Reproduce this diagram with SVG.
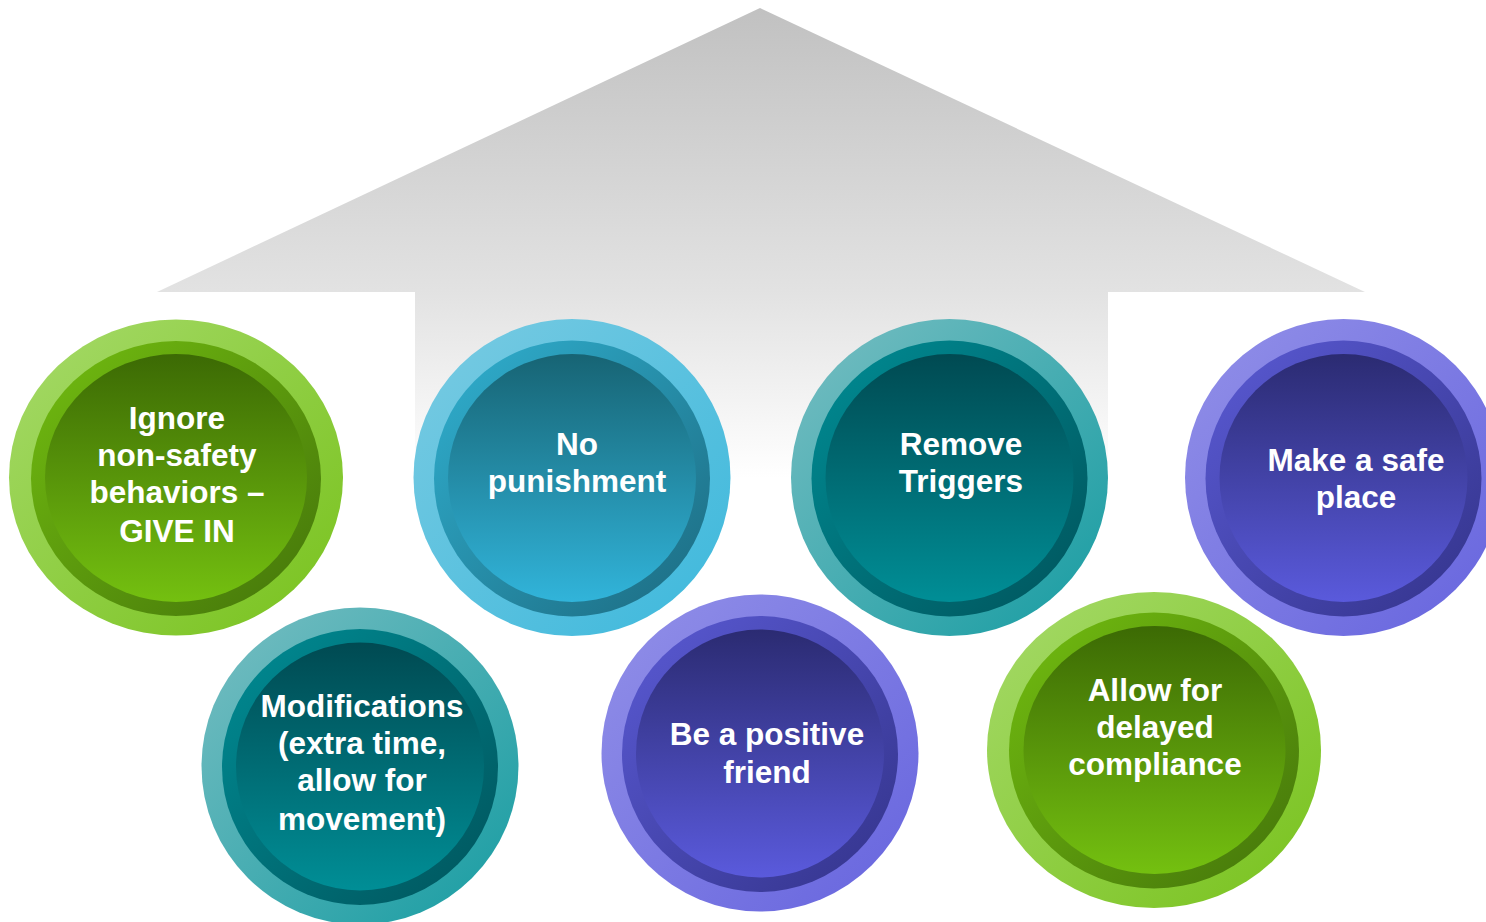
<svg xmlns="http://www.w3.org/2000/svg" width="1486" height="922" viewBox="0 0 1486 922">
  <defs>
    <!-- upward arrow fill: grey at the tip fading to white at the stem -->
    <linearGradient id="arrowFill" gradientUnits="userSpaceOnUse" x1="0" y1="8" x2="0" y2="478">
      <stop offset="0" stop-color="#c1c1c1"/>
      <stop offset="0.6" stop-color="#e2e2e2"/>
      <stop offset="1" stop-color="#ffffff"/>
    </linearGradient>

    <!-- green family -->
    <linearGradient id="gOuter" x1="0" y1="0" x2="1" y2="1">
      <stop offset="0" stop-color="#a6da6a"/>
      <stop offset="1" stop-color="#78c21c"/>
    </linearGradient>
    <linearGradient id="gMid" x1="0" y1="0" x2="1" y2="1">
      <stop offset="0" stop-color="#72bd10"/>
      <stop offset="1" stop-color="#44740a"/>
    </linearGradient>
    <linearGradient id="gInner" x1="0" y1="0" x2="0" y2="1">
      <stop offset="0" stop-color="#3c6a04"/>
      <stop offset="1" stop-color="#74c010"/>
    </linearGradient>

    <!-- blue family -->
    <linearGradient id="bOuter" x1="0" y1="0" x2="1" y2="1">
      <stop offset="0" stop-color="#7acbe2"/>
      <stop offset="1" stop-color="#3cb8dc"/>
    </linearGradient>
    <linearGradient id="bMid" x1="0" y1="0" x2="1" y2="1">
      <stop offset="0" stop-color="#30b0d0"/>
      <stop offset="1" stop-color="#1c6a80"/>
    </linearGradient>
    <linearGradient id="bInner" x1="0" y1="0" x2="0" y2="1">
      <stop offset="0" stop-color="#176474"/>
      <stop offset="1" stop-color="#31b4da"/>
    </linearGradient>

    <!-- teal family -->
    <linearGradient id="tOuter" x1="0" y1="0" x2="1" y2="1">
      <stop offset="0" stop-color="#78bec2"/>
      <stop offset="1" stop-color="#169ca2"/>
    </linearGradient>
    <linearGradient id="tMid" x1="0" y1="0" x2="1" y2="1">
      <stop offset="0" stop-color="#008c94"/>
      <stop offset="1" stop-color="#00545c"/>
    </linearGradient>
    <linearGradient id="tInner" x1="0" y1="0" x2="0" y2="1">
      <stop offset="0" stop-color="#004a52"/>
      <stop offset="1" stop-color="#008e96"/>
    </linearGradient>

    <!-- purple family -->
    <linearGradient id="pOuter" x1="0" y1="0" x2="1" y2="1">
      <stop offset="0" stop-color="#9290e8"/>
      <stop offset="1" stop-color="#6664de"/>
    </linearGradient>
    <linearGradient id="pMid" x1="0" y1="0" x2="1" y2="1">
      <stop offset="0" stop-color="#5a5ad4"/>
      <stop offset="1" stop-color="#33338a"/>
    </linearGradient>
    <linearGradient id="pInner" x1="0" y1="0" x2="0" y2="1">
      <stop offset="0" stop-color="#2b2b72"/>
      <stop offset="1" stop-color="#5a5adc"/>
    </linearGradient>

    <style>
      .label { font-family: "Liberation Sans", Arial, sans-serif; font-weight: bold; font-size: 31.5px; fill: #ffffff; text-anchor: middle; }
    </style>
  </defs>

  <rect width="1486" height="922" fill="#ffffff"/>

  <!-- background arrow -->
  <path id="arrow" d="M760 8 L1365 292 L1108 292 L1108 480 L415 480 L415 292 L157 292 Z" fill="url(#arrowFill)"/>

  <g id="connectors"/>

  <!-- top row -->
  <g id="node-ignore">
    <ellipse cx="176" cy="477.5" rx="167" ry="158" fill="url(#gOuter)"/>
    <ellipse cx="176" cy="478.5" rx="145" ry="137.5" fill="url(#gMid)"/>
    <ellipse cx="176" cy="478" rx="131" ry="124" fill="url(#gInner)"/>
    <text class="label" x="177" y="429">Ignore</text>
    <text class="label" x="177" y="466">non-safety</text>
    <text class="label" x="177" y="503">behaviors –</text>
    <text class="label" x="177" y="542">GIVE IN</text>
  </g>

  <g id="node-punishment">
    <circle cx="572" cy="477.5" r="158.5" fill="url(#bOuter)"/>
    <circle cx="572" cy="478.5" r="138" fill="url(#bMid)"/>
    <circle cx="572" cy="478" r="124" fill="url(#bInner)"/>
    <text class="label" x="577" y="455">No</text>
    <text class="label" x="577" y="492">punishment</text>
  </g>

  <g id="node-triggers">
    <circle cx="949.5" cy="477.5" r="158.5" fill="url(#tOuter)"/>
    <circle cx="949.5" cy="478.5" r="138" fill="url(#tMid)"/>
    <circle cx="949.5" cy="478" r="124" fill="url(#tInner)"/>
    <text class="label" x="961" y="455">Remove</text>
    <text class="label" x="961" y="492">Triggers</text>
  </g>

  <g id="node-safe-place">
    <circle cx="1343.5" cy="477.5" r="158.5" fill="url(#pOuter)"/>
    <circle cx="1343.5" cy="478.5" r="138" fill="url(#pMid)"/>
    <circle cx="1343.5" cy="478" r="124" fill="url(#pInner)"/>
    <text class="label" x="1356" y="471">Make a safe</text>
    <text class="label" x="1356" y="508">place</text>
  </g>

  <!-- bottom row -->
  <g id="node-modifications">
    <circle cx="360" cy="766" r="158.5" fill="url(#tOuter)"/>
    <circle cx="360" cy="767" r="138" fill="url(#tMid)"/>
    <circle cx="360" cy="766.5" r="124" fill="url(#tInner)"/>
    <text class="label" x="362" y="717">Modifications</text>
    <text class="label" x="362" y="754">(extra time,</text>
    <text class="label" x="362" y="791">allow for</text>
    <text class="label" x="362" y="830">movement)</text>
  </g>

  <g id="node-positive-friend">
    <circle cx="760" cy="753" r="158.5" fill="url(#pOuter)"/>
    <circle cx="760" cy="754" r="138" fill="url(#pMid)"/>
    <circle cx="760" cy="753.5" r="124" fill="url(#pInner)"/>
    <text class="label" x="767" y="745">Be a positive</text>
    <text class="label" x="767" y="783">friend</text>
  </g>

  <g id="node-delayed-compliance">
    <ellipse cx="1154" cy="750" rx="167" ry="158" fill="url(#gOuter)"/>
    <ellipse cx="1154" cy="750.5" rx="145" ry="138" fill="url(#gMid)"/>
    <ellipse cx="1154.5" cy="750" rx="131" ry="124" fill="url(#gInner)"/>
    <text class="label" x="1155" y="701">Allow for</text>
    <text class="label" x="1155" y="738">delayed</text>
    <text class="label" x="1155" y="775">compliance</text>
  </g>
</svg>
